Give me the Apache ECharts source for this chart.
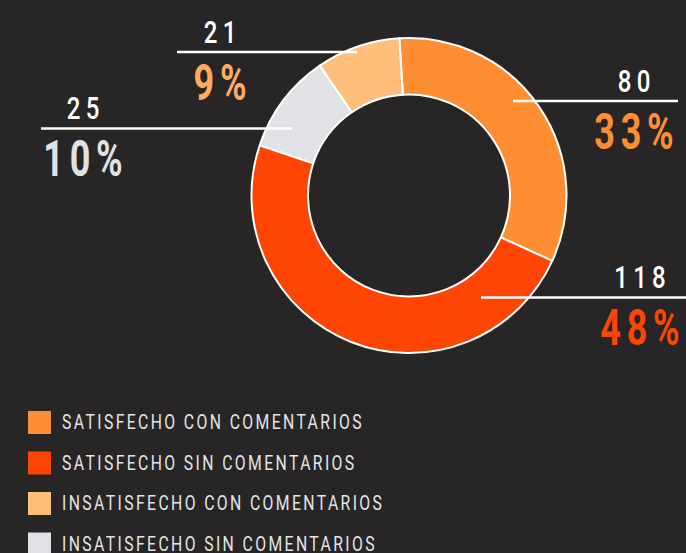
<!DOCTYPE html>
<html>
<head>
<meta charset="utf-8">
<script src="https://cdn.jsdelivr.net/npm/echarts@6/dist/echarts.min.js"></script>
<style>
  html, body { margin: 0; padding: 0; background: #272526; }
  #chart { width: 686px; height: 553px; }
</style>
</head>
<body>
<div id="chart"></div>
<script>
// Survey responses, in clockwise slice order starting at the top
const categories = [
  'SATISFECHO CON COMENTARIOS',
  'SATISFECHO SIN COMENTARIOS',
  'INSATISFECHO SIN COMENTARIOS',
  'INSATISFECHO CON COMENTARIOS'
];
const counts = [80, 118, 25, 21];

// Legend lists the groups in this order
const legendOrder = [
  'SATISFECHO CON COMENTARIOS',
  'SATISFECHO SIN COMENTARIOS',
  'INSATISFECHO CON COMENTARIOS',
  'INSATISFECHO SIN COMENTARIOS'
];

// Styling (kept separate from the values)
const sliceColors = ['#FF8E32', '#FF4503', '#E1E2E6', '#FFBE7C'];
const pctColors   = ['#FF8E32', '#FF4503', '#E1E2E6', '#FFAA62'];
const FONT = "Roboto, 'Noto Sans', sans-serif";

// Callout placement: leader line height, its inner/outer ends, and text centre
const callouts = [
  { lineY: 101,   x0: 513, x1: 678, textX: 634 },
  { lineY: 297.5, x0: 481, x1: 686, textX: 640 },
  { lineY: 128.5, x0: 292, x1: 41,  textX: 83  },
  { lineY: 52,    x0: 357, x1: 177, textX: 220 }
];

const total = counts.reduce((a, b) => a + b, 0);
const ring = { center: [409, 195.5], radius: [101, 157.5], startAngle: 93.5, clockwise: true };

const rich = { v: { fontFamily: FONT, fontSize: 32, color: '#FFFFFF', lineHeight: 40, fontWeight: 500 } };
pctColors.forEach((c, i) => {
  rich['p' + i] = { fontFamily: FONT, fontSize: 50, fontWeight: 'bold', color: c, lineHeight: 62 };
});

const chart = echarts.init(document.getElementById('chart'), null, { renderer: 'svg' });

chart.setOption({
  backgroundColor: '#272526',
  animation: false,
  legend: {
    data: legendOrder,
    orient: 'vertical',
    left: 28,
    top: 411,
    height: 220,
    padding: 0,
    itemWidth: 23,
    itemHeight: 23,
    itemGap: 17.5,
    icon: 'rect',
    selectedMode: false,
    itemStyle: { borderWidth: 0 },
    textStyle: { color: '#E4E4E6', fontSize: 21, lineHeight: 23, fontFamily: FONT, padding: [0, 0, 0, 6] }
  },
  series: [
    {
      // the donut itself
      type: 'pie',
      ...ring,
      z: 2,
      silent: true,
      emphasis: { disabled: true },
      itemStyle: { borderColor: '#FFFFFF', borderWidth: 2 },
      label: { show: false },
      labelLine: { show: false },
      data: categories.map((name, i) => ({ name, value: counts[i], itemStyle: { color: sliceColors[i] } }))
    },
    {
      // same geometry, transparent: carries the callouts above the ring
      type: 'pie',
      ...ring,
      z: 5,
      silent: true,
      legendHoverLink: false,
      avoidLabelOverlap: false,
      emphasis: { disabled: true },
      itemStyle: { color: 'rgba(0,0,0,0)', borderWidth: 0 },
      data: categories.map((name, i) => ({ name, value: counts[i] })),
      label: {
        show: true,
        position: 'outside',
        formatter: p => '{v|' + p.value + '}\n{p' + p.dataIndex + '|' + Math.round(p.value / total * 100) + '%}',
        rich: rich
      },
      labelLine: {
        show: true,
        smooth: false,
        lineStyle: { color: '#FFFFFF', width: 2.5 }
      },
      labelLayout: function (params) {
        const c = callouts[params.dataIndex];
        return {
          x: c.textX,
          y: c.lineY - 40,
          align: 'center',
          verticalAlign: 'top',
          labelLinePoints: [[c.x0, c.lineY], [c.x1, c.lineY], [c.x1, c.lineY]]
        };
      }
    }
  ]
});

// Narrow, widely tracked display lettering: squeeze glyphs horizontally
// around each text's anchor and open up the tracking.
function condense() {
  document.querySelectorAll('#chart svg text').forEach(t => {
    if (t.dataset.condensed) return;
    t.dataset.condensed = '1';
    const cs = getComputedStyle(t);
    const fs = parseFloat(cs.fontSize) || 12;
    let s, L;
    if (fs >= 40)      { s = 0.72; L = 8; }
    else if (fs >= 28) { s = 0.75; L = 7; }
    else               { s = 0.75; L = 3.2; }
    t.style.letterSpacing = L + 'px';
    const X = parseFloat(t.getAttribute('x')) || 0;
    const shift = (cs.textAnchor === 'middle') ? L / 2 : 0;
    const base = t.getAttribute('transform') || '';
    t.setAttribute('transform',
      base + ' translate(' + X + ',0) scale(' + s + ',1) translate(' + (-X + shift) + ',0)');
  });
}
chart.on('finished', condense);
condense();
</script>
</body>
</html>
